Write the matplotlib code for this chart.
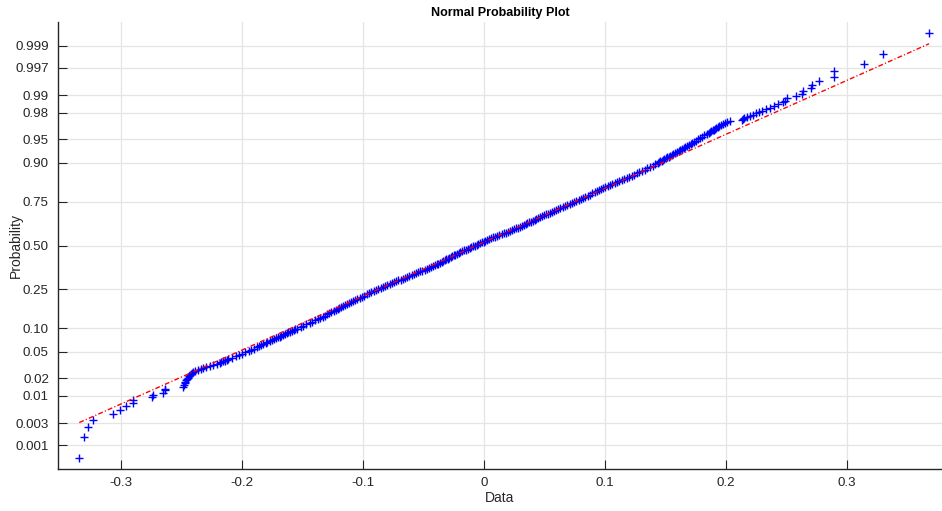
import matplotlib
matplotlib.use("Agg")
import matplotlib.pyplot as plt
import numpy as np
from statistics import NormalDist

plt.rcParams['font.family'] = ['Liberation Sans', 'DejaVu Sans']
plt.rcParams['axes.unicode_minus'] = False

# Sample size and the order-statistic ranks whose sorted values are listed below
n_obs = 1000
ranks = np.concatenate([
    np.arange(1, 41),
    np.arange(42, 101, 2),
    np.arange(104, 201, 4),
    np.arange(205, 801, 5),
    np.arange(804, 901, 4),
    np.arange(902, 961, 2),
    np.arange(961, 1001),
])

# Sorted sample values at those ranks
values_low = [
    -0.3345, -0.3309, -0.3270, -0.3234, -0.3063, -0.3008, -0.2961, -0.2905, -0.2898, -0.2745,
    -0.2738, -0.2652, -0.2640, -0.2636, -0.2485, -0.2480, -0.2474, -0.2468, -0.2460, -0.2452,
    -0.2446, -0.2437, -0.2430, -0.2421, -0.2412, -0.2402, -0.2385, -0.2364, -0.2343, -0.2322,
    -0.2296, -0.2268, -0.2240, -0.2210, -0.2184, -0.2170, -0.2157, -0.2141, -0.2128, -0.2114,
]
values_lower_mid = [
    -0.2080, -0.2050, -0.2022, -0.1997, -0.1972, -0.1946, -0.1922, -0.1898, -0.1880, -0.1860,
    -0.1843, -0.1825, -0.1806, -0.1790, -0.1772, -0.1755, -0.1738, -0.1722, -0.1706, -0.1690,
    -0.1675, -0.1659, -0.1645, -0.1630, -0.1616, -0.1602, -0.1588, -0.1574, -0.1560, -0.1547,
    -0.1515, -0.1492, -0.1468, -0.1442, -0.1419, -0.1396, -0.1373, -0.1353, -0.1334, -0.1314,
    -0.1297, -0.1278, -0.1261, -0.1244, -0.1226, -0.1210, -0.1195, -0.1180, -0.1165, -0.1148,
    -0.1133, -0.1118, -0.1102, -0.1086, -0.1069,
]
values_mid = [
    -0.1047, -0.1028, -0.1008, -0.0990, -0.0970, -0.0950, -0.0930, -0.0911, -0.0892, -0.0873,
    -0.0854, -0.0835, -0.0817, -0.0799, -0.0781, -0.0763, -0.0744, -0.0725, -0.0707, -0.0689,
    -0.0670, -0.0652, -0.0634, -0.0616, -0.0598, -0.0580, -0.0562, -0.0544, -0.0526, -0.0509,
    -0.0491, -0.0474, -0.0457, -0.0441, -0.0424, -0.0408, -0.0392, -0.0377, -0.0363, -0.0349,
    -0.0336, -0.0323, -0.0311, -0.0300, -0.0288, -0.0276, -0.0264, -0.0251, -0.0238, -0.0224,
    -0.0210, -0.0195, -0.0180, -0.0165, -0.0150, -0.0135, -0.0120, -0.0106, -0.0091, -0.0076,
    -0.0061, -0.0046, -0.0032, -0.0018, -0.0004, 0.0010, 0.0026, 0.0042, 0.0058, 0.0075,
    0.0092, 0.0109, 0.0127, 0.0145, 0.0163, 0.0181, 0.0198, 0.0215, 0.0232, 0.0249,
    0.0266, 0.0283, 0.0299, 0.0314, 0.0329, 0.0343, 0.0357, 0.0372, 0.0387, 0.0402,
    0.0418, 0.0433, 0.0448, 0.0464, 0.0480, 0.0496, 0.0512, 0.0528, 0.0544, 0.0560,
    0.0576, 0.0594, 0.0611, 0.0630, 0.0649, 0.0668, 0.0687, 0.0707, 0.0726, 0.0745,
    0.0763, 0.0781, 0.0799, 0.0818, 0.0837, 0.0856, 0.0875, 0.0895, 0.0915, 0.0934,
]
values_upper_mid = [
    0.0952, 0.0969, 0.0986, 0.1004, 0.1023, 0.1042, 0.1061, 0.1080, 0.1099, 0.1118,
    0.1137, 0.1157, 0.1178, 0.1199, 0.1220, 0.1241, 0.1263, 0.1284, 0.1307, 0.1329,
    0.1351, 0.1373, 0.1394, 0.1414, 0.1435,
    0.1445, 0.1456, 0.1467, 0.1478, 0.1489, 0.1501, 0.1512, 0.1525, 0.1539, 0.1553,
    0.1566, 0.1580, 0.1593, 0.1608, 0.1622, 0.1636, 0.1651, 0.1664, 0.1679, 0.1693,
    0.1708, 0.1722, 0.1737, 0.1752, 0.1768, 0.1785, 0.1803, 0.1820, 0.1841, 0.1860,
]
values_high = [
    0.1870, 0.1880, 0.1890, 0.1900, 0.1910, 0.1920, 0.1932, 0.1945, 0.1958, 0.1972,
    0.1990, 0.2010, 0.2033, 0.2135, 0.2143, 0.2150, 0.2170, 0.2196, 0.2225, 0.2250,
    0.2270, 0.2300, 0.2330, 0.2360, 0.2395, 0.2430, 0.2470, 0.2485, 0.2500, 0.2575,
    0.2625, 0.2640, 0.2700, 0.2708, 0.2771, 0.2890, 0.2890, 0.3140, 0.3295, 0.3678,
]
values = np.array(values_low + values_lower_mid + values_mid + values_upper_mid + values_high)
assert len(values) == len(ranks)

prob_ticks = [0.001, 0.003, 0.01, 0.02, 0.05, 0.10, 0.25, 0.50,
              0.75, 0.90, 0.95, 0.98, 0.99, 0.997, 0.999]
prob_labels = ['0.001', '0.003', '0.01', '0.02', '0.05', '0.10', '0.25', '0.50',
               '0.75', '0.90', '0.95', '0.98', '0.99', '0.997', '0.999']
x_ticks = [-0.3, -0.2, -0.1, 0.0, 0.1, 0.2, 0.3]
x_labels = ['-0.3', '-0.2', '-0.1', '0', '0.1', '0.2', '0.3']

nd = NormalDist()
ppf = np.vectorize(nd.inv_cdf)

# Plotting positions on the normal-quantile axis
p = (ranks - 0.5) / n_obs
zq = ppf(p)

# Reference line through the first and third quartiles
q1, q3 = np.interp([0.25, 0.75], p, values)
z1, z3 = nd.inv_cdf(0.25), nd.inv_cdf(0.75)
slope = (z3 - z1) / (q3 - q1)
x_line = np.array([values.min(), values.max()])
z_line = z1 + slope * (x_line - q1)

fig = plt.figure(figsize=(9.42, 5.11), dpi=100)
ax = fig.add_axes([58 / 942, 42 / 511, (942 - 58) / 942, 447 / 511])

ax.plot(values, zq, '+', color=(0, 0, 1), ms=5.8, mew=1.0, zorder=3)
ax.plot(x_line, z_line, color=(1, 0, 0), lw=1.0, dashes=(3.5, 1.6, 0.8, 1.6), zorder=4)

z_min = nd.inv_cdf(0.5 / n_obs)
pad = 0.025 * 2 * abs(z_min)
ax.set_ylim(z_min - pad, -z_min + pad)
ax.set_xlim(-0.3521, (942 - 484) / 1210)

ax.set_yticks(ppf(prob_ticks))
ax.set_yticklabels(prob_labels)
ax.set_xticks(x_ticks)
ax.set_xticklabels(x_labels)

ax.grid(True, color='#e4e4e4', lw=0.9)
ax.set_axisbelow(True)
for side in ('top', 'right'):
    ax.spines[side].set_visible(False)
for side in ('left', 'bottom'):
    ax.spines[side].set_color('#262626')
    ax.spines[side].set_linewidth(1.0)
ax.tick_params(direction='in', length=6.5, width=0.8, color='#262626',
               labelcolor='#262626', labelsize=9.6)
ax.tick_params(axis='y', pad=6.5)
ax.tick_params(axis='x', pad=6)

ax.set_title('Normal Probability Plot', fontsize=9, fontweight='bold', pad=4)
ax.set_xlabel('Data', fontsize=10, color='#262626')
ax.set_ylabel('Probability', fontsize=10, color='#262626')
ax.xaxis.set_label_coords(0.5, -(498 - 469) / 447)
ax.yaxis.set_label_coords(-(58 - 16) / 884, 0.5)
ax.xaxis.label.set_va('center')
ax.yaxis.label.set_va('center')

fig.savefig('out.png', dpi=100)
